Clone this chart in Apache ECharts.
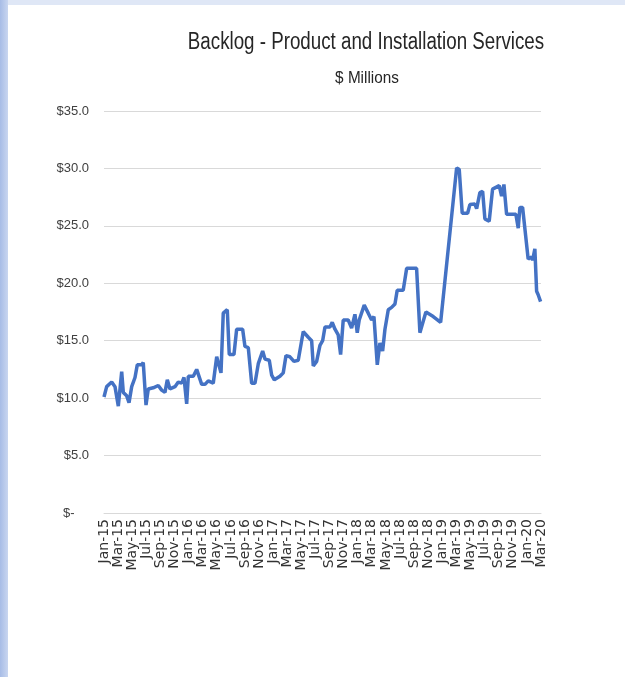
<!DOCTYPE html>
<html>
<head>
<meta charset="utf-8">
<script src="https://cdn.jsdelivr.net/npm/echarts@6/dist/echarts.min.js"></script>
<style>
html,body{margin:0;padding:0;background:#fff;}
#c{width:625px;height:677px;}
</style>
</head>
<body>
<div id="c"></div>
<script>
// x positions: months since Jan-2015 (fractional), values in $ millions
var monthPos = [0,0.38,1.09,1.56,2.03,2.51,2.74,3.22,3.55,3.93,4.40,4.72,5.35,5.57,5.96,6.28,6.99,7.70,8.18,8.65,8.98,9.36,10.07,10.54,11.02,11.35,11.73,11.96,12.67,13.15,13.86,14.33,14.79,15.50,15.99,16.60,16.92,17.49,17.77,18.44,18.82,19.67,20.0,20.47,20.95,21.42,21.89,22.51,22.84,23.45,23.79,24.16,24.96,25.43,25.82,26.38,26.95,27.56,28.27,28.98,29.46,29.69,30.17,30.64,31.02,31.35,32.06,32.38,32.77,33.23,33.57,33.94,34.65,35.13,35.60,35.93,36.21,36.92,37.49,37.97,38.30,38.77,39.15,39.53,39.86,40.33,40.81,41.28,41.60,42.45,42.94,44.35,44.82,45.67,46.71,47.76,50.03,50.40,50.82,51.59,51.91,52.62,52.87,53.33,53.72,54.04,54.65,55.13,56.07,56.41,56.74,57.12,58.44,58.77,59.01,59.39,60.18,60.67,60.81,61.13,61.38,61.60,61.94];
var backlog = [10.1,11.0,11.4,11.0,9.3,12.3,10.5,10.2,9.6,11.0,11.8,12.9,12.9,13.1,9.4,10.8,10.9,11.1,10.7,10.5,11.6,10.8,11.0,11.4,11.3,11.8,9.5,11.9,11.9,12.5,11.2,11.2,11.5,11.3,13.6,12.2,17.4,17.7,13.8,13.8,16.0,16.0,14.5,14.4,11.3,11.3,13.0,14.1,13.4,13.3,12.0,11.6,11.9,12.2,13.7,13.6,13.2,13.3,15.8,15.3,15.0,12.8,13.2,14.6,15.0,16.2,16.2,16.6,16.0,15.5,13.8,16.8,16.8,16.1,17.3,15.7,16.8,18.1,17.4,16.8,17.1,12.9,14.8,14.1,16.0,17.7,17.9,18.2,19.4,19.4,21.3,21.3,15.7,17.5,17.1,16.6,30.05,29.9,26.1,26.1,26.85,26.9,26.5,27.9,28.0,25.6,25.4,28.2,28.5,27.6,28.6,26.0,26.0,24.8,26.6,26.6,22.1,22.3,22.0,23.0,19.3,19.0,18.4];
var xTickLabels = ['Jan-15','Mar-15','May-15','Jul-15','Sep-15','Nov-15','Jan-16','Mar-16','May-16','Jul-16','Sep-16','Nov-16','Jan-17','Mar-17','May-17','Jul-17','Sep-17','Nov-17','Jan-18','Mar-18','May-18','Jul-18','Sep-18','Nov-18','Jan-19','Mar-19','May-19','Jul-19','Sep-19','Nov-19','Jan-20','Mar-20'];
var titleText = 'Backlog - Product and Installation Services';
var subtitleText = '$ Millions';

var seriesData = monthPos.map(function(m,i){return [m, backlog[i]];});
var chart = echarts.init(document.getElementById('c'), null, {renderer:'canvas'});
chart.setOption({
  backgroundColor:'#ffffff',
  animation:false,
  graphic:[
    {type:'rect', left:0, top:0, shape:{width:625,height:5}, style:{fill:'#dfe7f6'}, z:-1},
    {type:'rect', left:0, top:0, shape:{width:8,height:677}, style:{fill:new echarts.graphic.LinearGradient(0,0,1,0,[{offset:0,color:'#a7bce6'},{offset:1,color:'#c9d6f0'}])}, z:-1},
    {type:'text', x:366, y:43, scaleX:0.815, style:{text:titleText, font:'23px "Liberation Sans", sans-serif', fill:'#262626', textAlign:'center', textVerticalAlign:'middle'}},
    {type:'text', x:367, y:78, scaleX:0.9, style:{text:subtitleText, font:'17px "Liberation Sans", sans-serif', fill:'#262626', textAlign:'center', textVerticalAlign:'middle'}}
  ],
  grid:{left:104, right:84, top:111, bottom:164, containLabel:false},
  xAxis:{
    type:'value', min:0, max:62, interval:2,
    axisLine:{show:true, lineStyle:{color:'#d9d9d9', width:1}},
    axisTick:{show:false},
    splitLine:{show:false},
    axisLabel:{
      rotate:90, fontSize:14, color:'#333333', fontFamily:'DejaVu Sans', margin:6,
      showMinLabel:true, showMaxLabel:true, hideOverlap:false,
      formatter:function(v){ var i=Math.round(v/2); return xTickLabels[i]||''; }
    }
  },
  yAxis:{
    type:'value', min:0, max:35, interval:5,
    axisLine:{show:false}, axisTick:{show:false},
    splitLine:{lineStyle:{color:'#d9d9d9', width:1}},
    axisLabel:{
      fontSize:13, color:'#404040', fontFamily:'"Liberation Sans", sans-serif', margin:15,
      formatter:function(v){ return v===0 ? '$-    ' : '$'+v.toFixed(1); }
    }
  },
  series:[{
    type:'line', data:seriesData, showSymbol:false, symbol:'none',
    lineStyle:{color:'#4472c4', width:3.5}, itemStyle:{color:'#4472c4'}
  }]
});
</script>
</body>
</html>
